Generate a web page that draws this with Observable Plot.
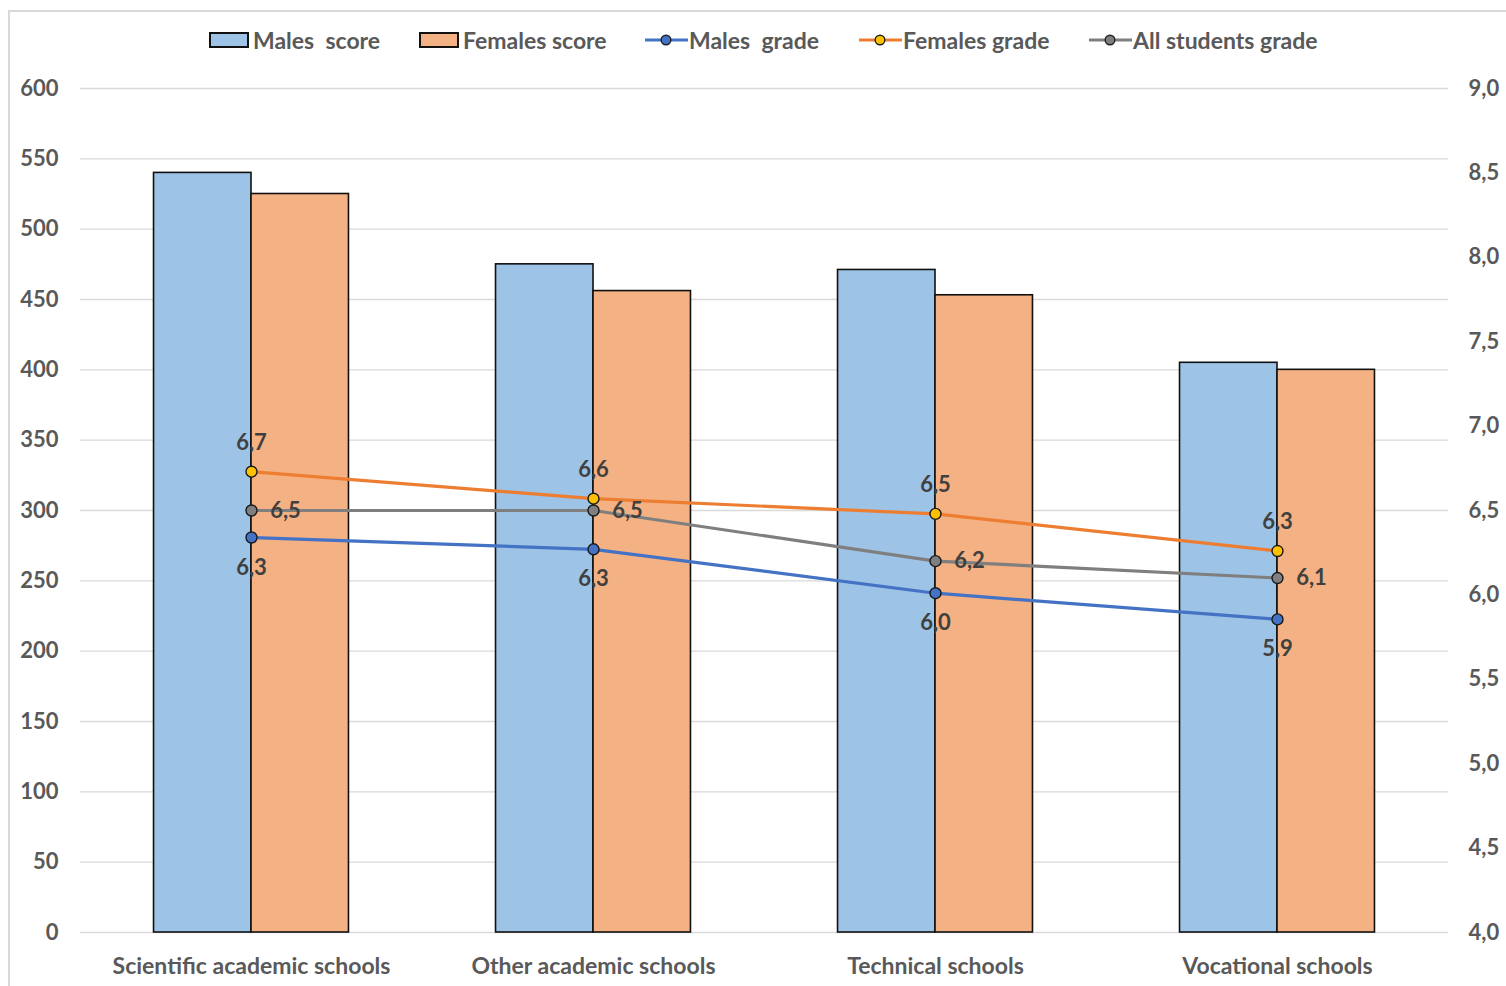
<!DOCTYPE html>
<html>
<head>
<meta charset="utf-8">
<script src="https://cdn.jsdelivr.net/npm/d3@7"></script>
<script src="https://cdn.jsdelivr.net/npm/@observablehq/plot@0.6"></script>
<style>
  html, body { margin: 0; padding: 0; background: #fff; overflow: hidden; }
  body { position: relative; width: 1506px; height: 986px; font-family: Lato, "Open Sans", sans-serif; }
  #frame { position: absolute; left: 8px; top: 10px; width: 1520px; height: 1000px; border: 2px solid #d9d9d9; box-sizing: border-box; pointer-events: none; }
  #legend { position: absolute; left: 0; top: 0; width: 1506px; height: 70px; }
  #chart { position: absolute; left: 0; top: 70px; }
  .item { position: absolute; top: 26px; display: flex; align-items: center; font-size: 23px; font-weight: 700; color: #595959; white-space: pre; }
</style>
</head>
<body>
<div id="frame"></div>
<div id="legend"></div>
<div id="chart"></div>
<script>
const categories = ["Scientific academic schools", "Other academic schools", "Technical schools", "Vocational schools"];
const malesScore = [540, 475, 471, 405];
const femalesScore = [525, 456, 453, 400];
const malesGrade = [6.34, 6.27, 6.01, 5.855];
const femalesGrade = [6.73, 6.57, 6.48, 6.26];
const allGrade = [6.50, 6.50, 6.20, 6.10];
const scoreTicks = d3.range(0, 601, 50);
const gradeTicks = d3.range(4, 9.01, 0.5);

const legendItems = [
  {label: "Males  score", kind: "bar", fill: "#9DC3E6", x: 209},
  {label: "Females score", kind: "bar", fill: "#F4B183", x: 419},
  {label: "Males  grade", kind: "line", stroke: "#4472C4", dot: "#4472C4", x: 645},
  {label: "Females grade", kind: "line", stroke: "#ED7D31", dot: "#FFC000", x: 859},
  {label: "All students grade", kind: "line", stroke: "#7F7F7F", dot: "#7F7F7F", x: 1089}
];

// grade (4..9) mapped onto the score scale (0..600)
const g2s = g => (g - 4) * 120;

const rows = categories.map((c, i) => ({i, c, ms: malesScore[i], fs: femalesScore[i], mg: malesGrade[i], fg: femalesGrade[i], ag: allGrade[i]}));
const fmt = v => v.toFixed(1).replace(".", ",");
const halfW = 0.285;

const legend = document.getElementById("legend");
for (const it of legendItems) {
  const div = document.createElement("div");
  div.className = "item";
  div.style.left = it.x + "px";
  let sw;
  if (it.kind === "bar") {
    sw = `<svg width="44" height="20"><rect x="1" y="3" width="38" height="14" fill="${it.fill}" stroke="#111" stroke-width="2"/></svg>`;
  } else {
    sw = `<svg width="44" height="20"><line x1="0" x2="43" y1="10" y2="10" stroke="${it.stroke}" stroke-width="3"/><circle cx="21" cy="10" r="4.8" fill="${it.dot}" stroke="#222" stroke-width="1.4"/></svg>`;
  }
  div.innerHTML = sw + `<span>${it.label}</span>`;
  legend.appendChild(div);
}

const series = [
  {key: "fg", stroke: "#ED7D31", dot: "#FFC000", dx: 0, dy: -29},
  {key: "ag", stroke: "#7F7F7F", dot: "#7F7F7F", dx: 34, dy: 0},
  {key: "mg", stroke: "#4472C4", dot: "#4472C4", dx: 0, dy: 30}
];

const marks = [
  Plot.ruleY(scoreTicks, {stroke: "#d9d9d9", strokeWidth: 1.3}),
  Plot.rectY(rows, {x1: d => d.i - halfW, x2: d => d.i, y1: 0, y2: "ms", fill: "#9DC3E6", stroke: "#111", strokeWidth: 1.6}),
  Plot.rectY(rows, {x1: d => d.i, x2: d => d.i + halfW, y1: 0, y2: "fs", fill: "#F4B183", stroke: "#111", strokeWidth: 1.6}),
  Plot.axisY({anchor: "left", ticks: scoreTicks, tickSize: 0, tickPadding: 22, tickFormat: d => d, fontSize: 22, fontWeight: 700, fill: "#595959", label: null}),
  Plot.axisY({anchor: "right", ticks: gradeTicks.map(g2s), tickSize: 0, tickPadding: 20, tickFormat: d => fmt(d / 120 + 4), fontSize: 22, fontWeight: 700, fill: "#595959", label: null}),
  Plot.axisX({ticks: [0, 1, 2, 3], tickSize: 0, tickPadding: 25, tickFormat: i => categories[i], fontSize: 23, fontWeight: 700, fill: "#595959", label: null})
];
for (const s of series) {
  marks.push(Plot.line(rows, {x: "i", y: d => g2s(d[s.key]), stroke: s.stroke, strokeWidth: 3.2}));
}
for (const s of series) {
  marks.push(Plot.dot(rows, {x: "i", y: d => g2s(d[s.key]), r: 5.5, fill: s.dot, stroke: "#1a1a1a", strokeWidth: 1.4}));
  marks.push(Plot.text(rows, {x: "i", y: d => g2s(d[s.key]), text: d => fmt(d[s.key]), dx: s.dx, dy: s.dy, fontSize: 22, fontWeight: 700, fill: "#404040"}));
}

const chart = Plot.plot({
  width: 1506,
  height: 916,
  marginTop: 18,
  marginBottom: 54,
  marginLeft: 80,
  marginRight: 58,
  style: {fontFamily: "Lato, 'Open Sans', sans-serif", background: "transparent"},
  x: {type: "linear", domain: [-0.5, 3.5], axis: null},
  y: {domain: [0, 600], axis: null},
  marks
});
document.getElementById("chart").appendChild(chart);
</script>
</body>
</html>
